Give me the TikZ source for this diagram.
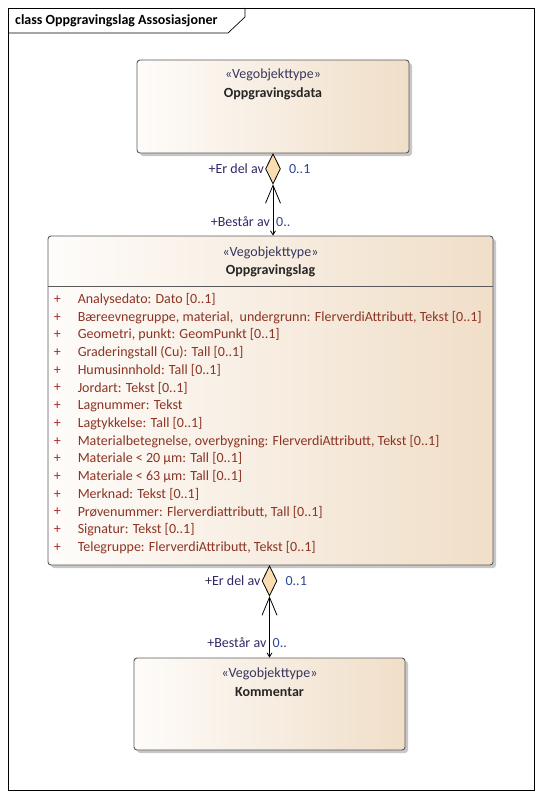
\documentclass[tikz,border=0pt]{standalone}
\usepackage{fontspec}
\setmainfont{Carlito}
\usetikzlibrary{arrows.meta, positioning, shapes.geometric, calc}
\definecolor{umltan}{RGB}{240,222,200}
\definecolor{umlwhite}{RGB}{254,252,250}
\definecolor{umlline}{RGB}{90,90,90}
\definecolor{attrcolor}{RGB}{140,52,36}
\definecolor{pluscolor}{RGB}{170,40,50}
\definecolor{stereocolor}{RGB}{55,55,95}
\definecolor{rolecolor}{RGB}{50,40,100}
\definecolor{multcolor}{RGB}{45,70,150}
\definecolor{diacolor}{RGB}{250,222,178}
\tikzset{
  umlfont/.style   = {font=\fontsize{14}{16}\selectfont},
  classbox/.style  = {draw=umlline, line width=0.9pt, rounded corners=3pt,
                      left color=umlwhite, right color=umltan, inner sep=0pt},
  shadowbox/.style = {fill=black!22, rounded corners=3pt, draw=none},
  stereo/.style    = {umlfont, text=stereocolor, inner sep=0pt},
  cname/.style     = {font=\fontsize{14}{16}\selectfont\bfseries,
                      text=black!85, inner sep=0pt},
  attr/.style      = {umlfont, text=attrcolor, anchor=west, inner sep=0pt},
  plus/.style      = {umlfont, text=pluscolor, anchor=west, inner sep=0pt},
  aggr/.style      = {diamond, draw=black, fill=diacolor, line width=0.8pt,
                      minimum width=15pt, minimum height=30pt, inner sep=0pt},
  assoc/.style     = {line width=0.8pt,
                      {Straight Barb[length=4pt,width=5pt]}-{Straight Barb[length=18pt,width=15pt]}},
  role/.style      = {umlfont, text=rolecolor, inner sep=0pt},
  mult/.style      = {umlfont, text=multcolor, inner sep=0pt},
}
\begin{document}
\begin{tikzpicture}[x=1pt, y=-1pt]
\useasboundingbox (0,0) rectangle (542,797);
% diagram frame
\draw[line width=0.7pt] (8,8) rectangle (534,790);
\draw[line width=0.7pt] (8,33) -- (228,33) -- (245,17) -- (245,8);
\node[font=\fontsize{14}{16}\selectfont\bfseries, anchor=west, inner sep=0pt]
  (frametitle) at (15,20.5) {class Oppgravingslag Assosiasjoner};

% class boxes
\fill[shadowbox] (140,63) rectangle (412,156);
\node[classbox, minimum width=272pt, minimum height=93pt] (data) at (273,106.5) {};
\fill[shadowbox] (51,239) rectangle (496,568);
\node[classbox, minimum width=445pt, minimum height=329pt] (lag) at (270.5,400.5) {};
\fill[shadowbox] (137,661) rectangle (408,753);
\node[classbox, minimum width=271pt, minimum height=92pt] (komm) at (269.5,704) {};

\node[stereo] (datastereo) at ($(data.north)+(0,15)$) {«Vegobjekttype»};
\node[cname] (dataname) at ($(datastereo)+(0,19)$) {Oppgravingsdata};
\node[stereo] (lagstereo) at ($(lag.north)+(0,17)$) {«Vegobjekttype»};
\node[cname] (lagname) at ($(lagstereo)+(0,18)$) {Oppgravingslag};
\node[stereo] (kommstereo) at ($(komm.north)+(0,16)$) {«Vegobjekttype»};
\node[cname] (kommname) at ($(kommstereo)+(0,18)$) {Kommentar};

% attribute compartment
\draw[umlline, line width=0.9pt] ($(lag.north west)+(0,51)$) -- ($(lag.north east)+(0,51)$);
\foreach \txt [count=\i from 0] in {
    {Analysedato: Dato [0..1]},
    {Bæreevnegruppe, material,\ \ undergrunn: FlerverdiAttributt, Tekst [0..1]},
    {Geometri, punkt: GeomPunkt [0..1]},
    {Graderingstall (Cu): Tall [0..1]},
    {Humusinnhold: Tall [0..1]},
    {Jordart: Tekst [0..1]},
    {Lagnummer: Tekst},
    {Lagtykkelse: Tall [0..1]},
    {Materialbetegnelse, overbygning: FlerverdiAttributt, Tekst [0..1]},
    {Materiale < 20 µm: Tall [0..1]},
    {Materiale < 63 µm: Tall [0..1]},
    {Merknad: Tekst [0..1]},
    {Prøvenummer: Flerverdiattributt, Tall [0..1]},
    {Signatur: Tekst [0..1]},
    {Telegruppe: FlerverdiAttributt, Tekst [0..1]}
}{
    \node[plus] (plus\i) at ($(lag.north west)+(6,64+17.7*\i)$) {+};
    \node[attr] (attr\i) at ($(lag.north west)+(30,64+17.7*\i)$) {\txt};
}

% aggregations
\node[aggr, below=0pt of data.south] (dia1) {};
\draw[assoc] (lag.north -| dia1.south) -- (dia1.south);
\node[role, anchor=east] (role1a) at ($(dia1.west)+(-1,0)$) {+Er del av};
\node[mult, anchor=west] (mult1a) at ($(dia1.east)+(8,0)$) {0..1};
\node[role, anchor=east] (role1b) at ($(lag.north -| dia1.south)+(-3,-14)$) {+Består av};
\node[mult, anchor=west] (mult1b) at ($(lag.north -| dia1.south)+(3,-14)$) {0..};

\node[aggr, below=0pt of lag.south -| komm.north] (dia2) {};
\draw[assoc] (komm.north -| dia2.south) -- (dia2.south);
\node[role, anchor=east] (role2a) at ($(dia2.west)+(-1,0)$) {+Er del av};
\node[mult, anchor=west] (mult2a) at ($(dia2.east)+(8,0)$) {0..1};
\node[role, anchor=east] (role2b) at ($(komm.north -| dia2.south)+(-3,-15)$) {+Består av};
\node[mult, anchor=west] (mult2b) at ($(komm.north -| dia2.south)+(3,-15)$) {0..};
\end{tikzpicture}
\end{document}
